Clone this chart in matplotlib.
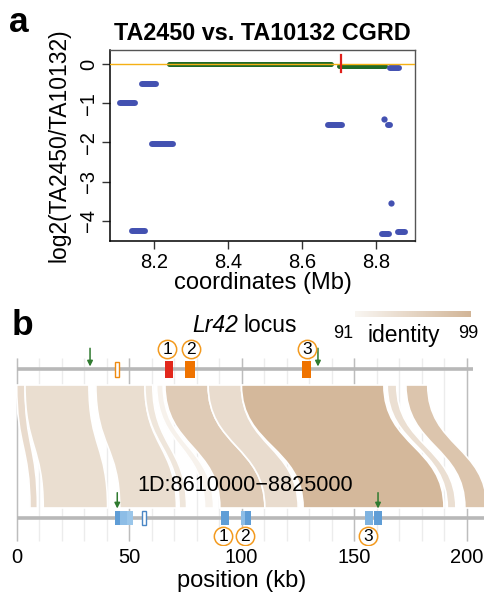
import numpy as np
import matplotlib
matplotlib.use('Agg')
import matplotlib.pyplot as plt
from matplotlib.path import Path
from matplotlib.patches import PathPatch, Rectangle
from matplotlib.colors import LinearSegmentedColormap

plt.rcParams['font.family'] = ['Liberation Sans', 'DejaVu Sans']

W, H = 484, 596

# ---- panel a data (Mb, log2 ratio) ----
blue_start = [8.108, 8.167, 8.194, 8.140, 8.671, 8.838, 8.817, 8.859, 8.831]
blue_end = [8.149, 8.204, 8.250, 8.176, 8.707, 8.863, 8.835, 8.878, 8.838]
blue_val = [-1.00, -0.50, -2.05, -4.25, -1.56, -0.10, -4.33, -4.28, -1.56]
dot_x = [8.820, 8.839]
dot_y = [-1.41, -3.54]
green_start = [8.241, 8.701]
green_end = [8.678, 8.824]
green_val = [0.0, -0.05]
breakpoint_x = 8.705

# ---- panel b data (kb) ----
band_top_start = [0.0, 3.7, 35.2, 57.0, 62.2, 65.9, 85.1, 99.9, 164.7, 173.0]
band_top_end = [3.7, 32.1, 57.0, 60.5, 65.1, 85.1, 99.9, 163.2, 168.9, 182.7]
band_bot_start = [5.9, 11.8, 45.8, 72.2, 83.5, 90.3, 110.3, 127.3, 191.4, 199.2]
band_bot_end = [9.2, 40.4, 71.0, 75.5, 87.5, 110.3, 125.1, 189.9, 195.2, 209.0]
band_identity = [94.3, 94.0, 94.0, 93.0, 91.5, 96.3, 94.2, 98.6, 93.8, 97.0]

top_len = 202.8
bot_len = 215.0

top_gene_start = [65.9, 74.7, 127.0]
top_gene_end = [69.6, 79.2, 130.6]
top_gene_color = ['#e2281c', '#ef7300', '#ef7300']
top_pseudo = [(43.5, 45.3)]

bot_gene_start = [43.7, 45.9, 48.9, 90.8, 99.7, 101.5, 155.0, 158.8]
bot_gene_end = [45.9, 48.9, 51.8, 94.4, 101.5, 104.0, 158.2, 162.2]
bot_gene_color = ['#5f9dd6', '#8dbde6', '#9ac6ea', '#5f9dd6', '#8dbde6', '#5f9dd6', '#7fb3e0', '#5f9dd6']
bot_pseudo = [(55.6, 57.3)]

top_arrow_x = [32.6, 133.9]
bot_arrow_x = [44.7, 160.6]
top_label_x = [66.9, 77.3, 128.9]
bot_label_x = [91.8, 101.5, 156.3]
gene_labels = ['1', '2', '3']

ident_min, ident_max = 91, 99
cmap = LinearSegmentedColormap.from_list('ident', ['#f9f6f2', '#d2b597'])


def px(x, y):
    return x / W, 1 - y / H


fig = plt.figure(figsize=(W / 100, H / 100), dpi=100)

# ================= panel a =================
ax = fig.add_axes([110 / W, 1 - 241 / H, 305 / W, 191 / H])
ax.axhline(0, color='#f5b014', lw=1.0, zorder=3)
for s, e, v in zip(green_start, green_end, green_val):
    ax.plot([s, e], [v, v], color='#1f6b28', lw=3.6, solid_capstyle='round', zorder=2)
for s, e, v in zip(blue_start, blue_end, blue_val):
    ax.plot([s, e], [v, v], color='#4351b1', lw=4.3, solid_capstyle='round', zorder=2)
ax.plot(dot_x, dot_y, 'o', color='#4351b1', ms=4.5, mew=0, zorder=2)
ax.plot([breakpoint_x, breakpoint_x], [0.23, -0.21], color='#e0201b', lw=1.6, zorder=4)

ax.set_xlim(8.081, 8.905)
ax.set_ylim(-4.51, 0.357)
ax.set_xticks([8.2, 8.4, 8.6, 8.8])
ax.set_yticks([0, -1, -2, -3, -4])
ax.set_yticklabels(['0', '\u22121', '\u22122', '\u22123', '\u22124'], rotation=90, va='center')
ax.tick_params(axis='both', labelsize=14.5, length=5.5, width=1, color='#333333')
ax.tick_params(axis='x', pad=3)
ax.tick_params(axis='y', pad=3)
for side in ['left', 'bottom']:
    ax.spines[side].set_color('black')
    ax.spines[side].set_linewidth(1.1)
for side in ['top', 'right']:
    ax.spines[side].set_color('#555555')
    ax.spines[side].set_linewidth(1.0)
ax.set_xlabel('coordinates (Mb)', fontsize=17, labelpad=0)
ax.set_ylabel('log2(TA2450/TA10132)', fontsize=16.5, labelpad=6)
ax.set_title('TA2450 vs. TA10132 CGRD', fontsize=16.8, fontweight='bold', pad=7)

fig.text(*px(9, 32), 'a', fontsize=25.5, fontweight='bold', va='baseline')
fig.text(*px(12, 335), 'b', fontsize=25.5, fontweight='bold', va='baseline')

# ================= panel b =================
bx = fig.add_axes([0, 1 - 545 / H, 1, (545 - 300) / H])
bx.set_xlim(-7.42, 207.7)
bx.set_ylim(545, 300)
for sp in bx.spines.values():
    sp.set_visible(False)
bx.set_yticks([])
bx.set_xticks([0, 50, 100, 150, 200])
bx.tick_params(axis='x', length=0, labelsize=14.5, pad=2)
bx.set_xlabel('position (kb)', fontsize=17, labelpad=2)

y_top_line, y_bot_line = 369.3, 517.7
y_band_top, y_band_bot = 385.0, 508.0

# grid
minor = np.arange(0, 201, 10)
bx.vlines(minor, 357.7, 540.7, color='#ececec', lw=1, zorder=0)
bx.vlines([0, 50, 100, 150, 200], 357.7, 540.7, color='#bdbdbd', lw=1, zorder=0)

# synteny bands
ym = (y_band_top + y_band_bot) / 2
for a1, a2, b1, b2, idn in zip(band_top_start, band_top_end, band_bot_start, band_bot_end, band_identity):
    verts = [(a1, y_band_top), (a2, y_band_top),
             (a2, ym), (b2, ym), (b2, y_band_bot),
             (b1, y_band_bot),
             (b1, ym), (a1, ym), (a1, y_band_top),
             (a1, y_band_top)]
    codes = [Path.MOVETO, Path.LINETO,
             Path.CURVE4, Path.CURVE4, Path.CURVE4,
             Path.LINETO,
             Path.CURVE4, Path.CURVE4, Path.CURVE4,
             Path.CLOSEPOLY]
    col = cmap((idn - ident_min) / (ident_max - ident_min))
    bx.add_patch(PathPatch(Path(verts, codes), facecolor=col, edgecolor='white', lw=1.2, zorder=1))

# chromosome tracks
bx.plot([0, top_len], [y_top_line, y_top_line], color='#b8b8b8', lw=2.6, solid_capstyle='butt', zorder=2)
bx.plot([0, bot_len], [y_bot_line, y_bot_line], color='#b8b8b8', lw=2.6, solid_capstyle='butt', zorder=2)

# genes
for s, e, c in zip(top_gene_start, top_gene_end, top_gene_color):
    bx.add_patch(Rectangle((s, 361), e - s, 16.7, facecolor=c, edgecolor='none', zorder=3))
for s, e in top_pseudo:
    bx.add_patch(Rectangle((s, 361.5), e - s, 15.5, facecolor='white', edgecolor='#ef8a10', lw=1, zorder=3))
for s, e, c in zip(bot_gene_start, bot_gene_end, bot_gene_color):
    bx.add_patch(Rectangle((s, 510.7), e - s, 14.3, facecolor=c, edgecolor='none', zorder=3))
for s, e in bot_pseudo:
    bx.add_patch(Rectangle((s, 511), e - s, 13.5, facecolor='white', edgecolor='#4a86c5', lw=1, zorder=3))

# NLR arrows
arrow_kw = dict(arrowstyle='-|>', color='#2f7a2f', lw=1.1, mutation_scale=8, shrinkA=0, shrinkB=0)
for x in top_arrow_x:
    bx.annotate('', xy=(x, 366.5), xytext=(x, 348.3), arrowprops=arrow_kw, zorder=5)
for x in bot_arrow_x:
    bx.annotate('', xy=(x, 508.5), xytext=(x, 492.7), arrowprops=arrow_kw, zorder=5)

# circled gene numbers
for xs, y in [(top_label_x, 349.3), (bot_label_x, 536.0)]:
    bx.scatter(xs, [y] * len(xs), s=13.2 ** 2, facecolor='white', edgecolor='#f39a1e', lw=1.1, zorder=5)
    for x, t in zip(xs, gene_labels):
        bx.text(x, y + 0.5, t, fontsize=12.5, ha='center', va='center', zorder=6)

bx.text(101.7, 485.7, '1D:8610000\u22128825000', fontsize=15.6, ha='center', va='center', zorder=6)
fig.text(*px(238.5, 332), 'Lr42', fontsize=16.5, style='italic', ha='right', va='baseline')
fig.text(*px(243.5, 332), 'locus', fontsize=16.5, ha='left', va='baseline')

# identity colour scale
cax = fig.add_axes([355 / W, 1 - 316.7 / H, 115 / W, 5.7 / H])
cax.imshow(np.linspace(0, 1, 256)[None, :], aspect='auto', cmap=cmap)
cax.axis('off')
fig.text(*px(343, 338), str(ident_min), fontsize=13, ha='center', va='baseline')
fig.text(*px(403.3, 341.7), 'identity', fontsize=16.5, ha='center', va='baseline')
fig.text(*px(468.3, 338), str(ident_max), fontsize=13, ha='center', va='baseline')

fig.savefig('out.png', dpi=100)
